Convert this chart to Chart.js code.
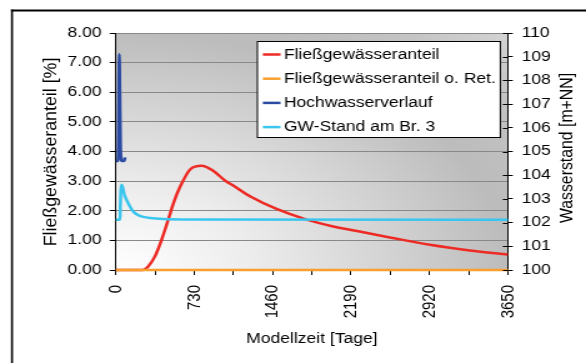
<!DOCTYPE html>
<html>
<head>
<meta charset="utf-8">
<script src="https://cdn.jsdelivr.net/npm/chart.js@4/dist/chart.umd.min.js"></script>
<style>
  html, body { margin: 0; padding: 0; background: #fff; }
  #wrap { width: 586px; height: 363px; overflow: hidden; }
  /* the chart is laid out narrow and widened horizontally, like the exported diagram */
  #modelChart { display: block; transform: scaleX(1.2495); transform-origin: 0 0; }
</style>
</head>
<body>
<div id="wrap"><canvas id="modelChart" width="469" height="363"></canvas></div>
<script>
// Fließgewässeranteil [%] über die Modellzeit
const redDays = [0, 250, 300, 363, 425, 487, 540, 596, 695, 797, 905, 1015, 1092, 1248, 1496, 1776, 2023, 2179, 2551, 2924, 3296, 3650];
const redShare = [0, 0, 0.12, 0.46, 1.02, 1.70, 2.30, 2.80, 3.41, 3.52, 3.35, 3.02, 2.85, 2.49, 2.06, 1.70, 1.47, 1.36, 1.10, 0.85, 0.66, 0.52];

// Fließgewässeranteil ohne Retention [%]
const orangeDays = [0, 3650];
const orangeShare = [0, 0];

// Hochwasserverlauf [m+NN]
const floodDays = [0, 18, 22, 26, 31, 36, 42, 48, 55, 75, 80, 84];
const floodLevel = [104.6, 104.6, 105.2, 107.5, 109.1, 107.5, 105.3, 104.7, 104.6, 104.6, 104.65, 104.75];

// GW-Stand am Brunnen 3 [m+NN]
const gwDays = [0, 37, 40, 45, 53, 65, 80, 100, 130, 161, 200, 254, 320, 440, 700, 3650];
const gwLevel = [102.12, 102.12, 102.6, 103.3, 103.6, 103.45, 103.15, 102.95, 102.68, 102.47, 102.33, 102.24, 102.19, 102.15, 102.13, 102.12];

const seriesLabels = ['Fließgewässeranteil', 'Fließgewässeranteil o. Ret.', 'Hochwasserverlauf', 'GW-Stand am Br. 3'];
const seriesColors = ['#ee2a24', '#f7a030', '#2b4aa2', '#3ac6ee'];

const FONT = '"Liberation Sans", Arial, sans-serif';

function toPoints(xs, ys) {
    return xs.map((x, i) => ({ x: x, y: ys[i] }));
}

// draws rotated text stretched along its reading direction
function verticalText(ctx, text, cx, cy, stretch) {
    ctx.save();
    ctx.translate(cx, cy);
    ctx.rotate(-Math.PI / 2);
    ctx.scale(stretch, 1);
    ctx.fillText(text, 0, 0);
    ctx.restore();
}

// plot background, outer frame, axis titles, legend box
const decorPlugin = {
    id: 'decor',
    beforeDraw(chart) {
        const { ctx, chartArea: a } = chart;
        ctx.save();
        ctx.beginPath();
        ctx.rect(a.left, a.top, a.right - a.left, a.bottom - a.top);
        ctx.clip();
        ctx.translate(a.left, a.bottom);
        ctx.scale(1.32, 1);
        const g = ctx.createRadialGradient(0, 0, 0, 0, 0, 340);
        g.addColorStop(0, '#ffffff');
        g.addColorStop(0.25, '#ececec');
        g.addColorStop(0.5, '#d2d2d2');
        g.addColorStop(0.7, '#bcbcbc');
        g.addColorStop(0.85, '#c3c3c3');
        g.addColorStop(1, '#d6d6d6');
        ctx.fillStyle = g;
        ctx.fillRect(0, -400, 400, 400);
        ctx.restore();
    },
    afterDraw(chart) {
        const { ctx, chartArea: a } = chart;
        ctx.save();

        // outer frame
        ctx.fillStyle = '#000';
        ctx.fillRect(8.8, 9.5, 1.6, 360);
        ctx.fillRect(8.8, 9.5, 470, 2);

        // inner halves of the right axis ticks
        const y2 = chart.scales.y2;
        ctx.strokeStyle = '#000';
        ctx.lineWidth = 1;
        ctx.beginPath();
        y2.ticks.forEach(t => {
            const y = Math.round(y2.getPixelForValue(t.value)) + 0.5;
            ctx.moveTo(a.right - 4, y);
            ctx.lineTo(a.right, y);
        });
        ctx.stroke();

        // axis titles
        ctx.fillStyle = '#000';
        ctx.font = '14px ' + FONT;
        ctx.textAlign = 'center';
        ctx.textBaseline = 'middle';
        ctx.fillText('Modellzeit [Tage]', 249.6, 339);
        verticalText(ctx, 'Fließgewässeranteil [%]', 41.6, 152, 1.27);
        verticalText(ctx, 'Wasserstand [m+NN]', 453.8, 148, 1.13);

        // legend
        ctx.fillStyle = '#fff';
        ctx.fillRect(206, 41.5, 194.4, 96);
        ctx.strokeStyle = '#000';
        ctx.lineWidth = 1;
        ctx.strokeRect(206, 41.5, 194.4, 96);
        ctx.font = '14px ' + FONT;
        ctx.textAlign = 'left';
        seriesLabels.forEach((label, i) => {
            const y = 54.5 + i * 24.2;
            ctx.strokeStyle = seriesColors[i];
            ctx.lineWidth = 2.5;
            ctx.beginPath();
            ctx.moveTo(210.4, y);
            ctx.lineTo(224.5, y);
            ctx.stroke();
            ctx.fillStyle = '#000';
            ctx.fillText(label, 227.2, y + 0.5);
        });
        ctx.restore();
    }
};

Chart.defaults.font.family = FONT;
Chart.defaults.font.size = 14;
Chart.defaults.color = '#000';

const lineStyle = (i) => ({
    label: seriesLabels[i],
    borderColor: seriesColors[i],
    backgroundColor: seriesColors[i],
    borderWidth: 2.5,
    pointRadius: 0,
    fill: false,
    clip: 4,
    cubicInterpolationMode: 'monotone'
});

new Chart(document.getElementById('modelChart'), {
    type: 'line',
    data: {
        datasets: [
            Object.assign(lineStyle(0), { data: toPoints(redDays, redShare), yAxisID: 'y', order: 3 }),
            Object.assign(lineStyle(1), { data: toPoints(orangeDays, orangeShare), yAxisID: 'y', order: 2 }),
            Object.assign(lineStyle(2), { data: toPoints(floodDays, floodLevel), yAxisID: 'y2', order: 1 }),
            Object.assign(lineStyle(3), { data: toPoints(gwDays, gwLevel), yAxisID: 'y2', order: 0 })
        ]
    },
    options: {
        responsive: false,
        animation: false,
        devicePixelRatio: 1,
        layout: { padding: { top: 33, left: 0, right: 0, bottom: 0 } },
        plugins: {
            legend: { display: false },
            tooltip: { enabled: false }
        },
        scales: {
            x: {
                type: 'linear',
                min: 0,
                max: 3650,
                afterFit: scale => { scale.height = 93; },
                afterBuildTicks: scale => {
                    const ticks = [];
                    for (let v = 0; v <= 3650; v += 365) ticks.push({ value: v });
                    scale.ticks = ticks;
                },
                ticks: {
                    autoSkip: false,
                    minRotation: 90,
                    maxRotation: 90,
                    padding: 10,
                    font: { size: 15 },
                    callback: v => (v % 730 === 0 ? String(v) : '')
                },
                grid: { drawOnChartArea: false, tickLength: 5, tickColor: '#000' },
                border: { color: '#000', width: 1 }
            },
            y: {
                position: 'left',
                min: 0,
                max: 8,
                afterFit: scale => { scale.width = 92.8; },
                ticks: { stepSize: 1, padding: 6.5, callback: v => v.toFixed(2) },
                grid: { color: '#888', tickLength: 5, tickColor: '#000' },
                border: { color: '#000', width: 1 }
            },
            y2: {
                position: 'right',
                min: 100,
                max: 110,
                afterFit: scale => { scale.width = 62.6; },
                ticks: { stepSize: 1, padding: 7 },
                grid: { drawOnChartArea: false, tickLength: 4, tickColor: '#000' },
                border: { color: '#000', width: 1 }
            }
        }
    },
    plugins: [decorPlugin]
});
</script>
</body>
</html>
